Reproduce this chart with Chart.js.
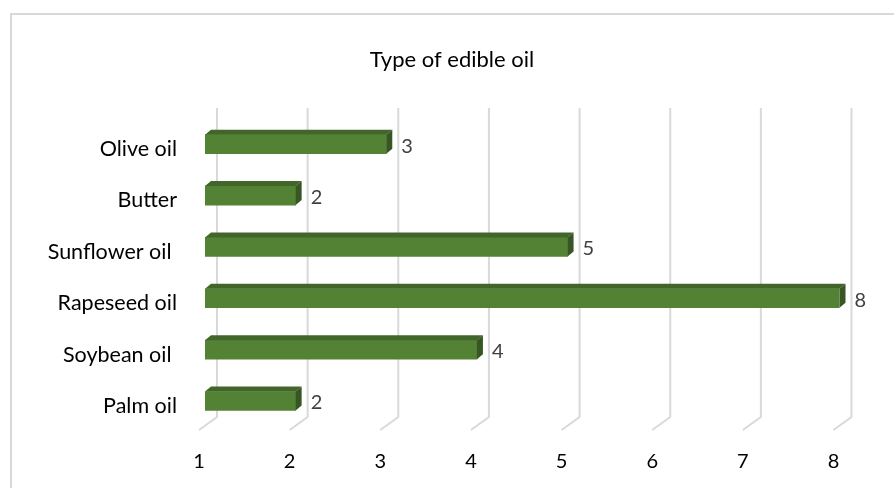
<!DOCTYPE html>
<html>
<head>
<meta charset="utf-8">
<script src="https://cdn.jsdelivr.net/npm/chart.js@4/dist/chart.umd.min.js"></script>
<style>
  html, body { margin: 0; padding: 0; background: #fff; }
  #wrap { position: absolute; left: 0; top: 0; width: 894px; height: 488px; }
</style>
</head>
<body>
<div id="wrap"><canvas id="chart" width="894" height="488"></canvas></div>
<script>
// data
const categories = ['Olive oil', 'Butter', 'Sunflower oil ', 'Rapeseed oil', 'Soybean oil ', 'Palm oil'];
const counts = [3, 2, 5, 8, 4, 2];
const axisMin = 1;
const axisMax = 8;

const FONT = 'Lato, "Open Sans", sans-serif';
const front = '#548235';
const topFace = '#42662a';
const sideFace = '#375623';
const gridColor = '#d9d9d9';

// depth of the fake 3D box (px)
const DX = 6, DY = 5;

// outer chart frame, cut off at right/bottom like the screenshot
const framePlugin = {
  id: 'frame',
  beforeDraw(chart) {
    const { ctx } = chart;
    ctx.save();
    ctx.fillStyle = '#fff';
    ctx.fillRect(0, 0, chart.width, chart.height);
    ctx.strokeStyle = '#d9d9d9';
    ctx.lineWidth = 2;
    ctx.strokeRect(11, 14, 900, 500);
    ctx.restore();
  }
};

// floor diagonals + back wall gridlines
const gridPlugin = {
  id: 'grid3d',
  beforeDatasetsDraw(chart) {
    const { ctx } = chart;
    const xs = chart.scales.x;
    const floorFront = 430, floorBack = 417, wallTop = 108;
    ctx.save();
    ctx.strokeStyle = gridColor;
    ctx.lineWidth = 2;
    xs.ticks.forEach(t => {
      const p = xs.getPixelForValue(t.value);
      ctx.beginPath();
      ctx.moveTo(p - 6, floorFront);
      ctx.lineTo(p + 12, floorBack);
      ctx.lineTo(p + 12, wallTop);
      ctx.stroke();
    });
    ctx.restore();
  }
};

// top and side faces of each bar, then the value labels
const barFacesPlugin = {
  id: 'barFaces',
  afterDatasetsDraw(chart) {
    const { ctx } = chart;
    const meta = chart.getDatasetMeta(0);
    const data = chart.data.datasets[0].data;
    meta.data.forEach((bar, i) => {
      const { x, y, base, height } = bar.getProps(['x', 'y', 'base', 'height'], true);
      const t = y - height / 2, b = y + height / 2;
      ctx.save();
      ctx.fillStyle = topFace;
      ctx.beginPath();
      ctx.moveTo(base, t);
      ctx.lineTo(base + DX, t - DY);
      ctx.lineTo(x + DX, t - DY);
      ctx.lineTo(x, t);
      ctx.closePath();
      ctx.fill();
      ctx.fillStyle = sideFace;
      ctx.beginPath();
      ctx.moveTo(x, t);
      ctx.lineTo(x + DX, t - DY);
      ctx.lineTo(x + DX, b - DY);
      ctx.lineTo(x, b);
      ctx.closePath();
      ctx.fill();

      ctx.fillStyle = '#404040';
      ctx.font = '20px ' + FONT;
      ctx.textAlign = 'left';
      ctx.textBaseline = 'middle';
      ctx.fillText(String(data[i]), x + 15, y + 2);
      ctx.restore();
    });
  }
};

new Chart(document.getElementById('chart'), {
  type: 'bar',
  data: {
    labels: categories,
    datasets: [{
      data: counts,
      base: axisMin,
      backgroundColor: front,
      borderWidth: 0,
      barThickness: 19
    }]
  },
  options: {
    indexAxis: 'y',
    responsive: false,
    animation: false,
    layout: { padding: { left: 10, right: 0, top: 0, bottom: 0 } },
    scales: {
      x: {
        min: axisMin,
        max: axisMax,
        grid: { display: false, drawTicks: false },
        border: { display: false },
        ticks: { stepSize: 1, color: '#000', font: { family: FONT, size: 20 }, padding: 23, labelOffset: -6 },
        afterFit(scale) { scale.height = 61.3; }
      },
      y: {
        grid: { display: false, drawTicks: false },
        border: { display: false },
        ticks: { color: '#000', font: { family: FONT, size: 21.5 }, padding: 28, labelOffset: 5 },
        afterFit(scale) { scale.width = 195; }
      },
      // empty right-hand gutter so the title centres on the whole frame
      gutter: {
        axis: 'y',
        type: 'linear',
        position: 'right',
        display: true,
        grid: { display: false, drawTicks: false },
        border: { display: false },
        ticks: { display: false },
        afterFit(scale) { scale.width = 54.5; }
      }
    },
    plugins: {
      legend: { display: false },
      tooltip: { enabled: false },
      title: {
        display: true,
        text: 'Type of edible oil',
        color: '#000',
        font: { family: FONT, size: 22, weight: 'normal' },
        padding: { top: 47, bottom: 45.1 }
      }
    }
  },
  plugins: [framePlugin, gridPlugin, barFacesPlugin]
});
</script>
</body>
</html>
